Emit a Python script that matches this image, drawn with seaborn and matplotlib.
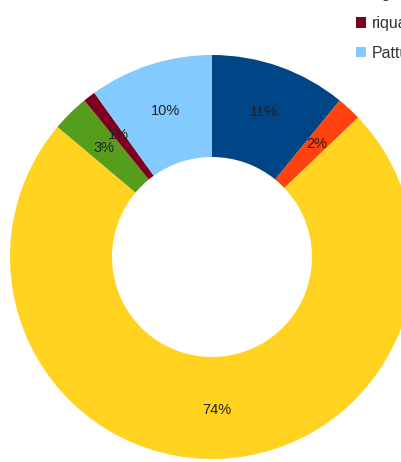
import numpy as np
import matplotlib
matplotlib.use("Agg")
import matplotlib.pyplot as plt
import seaborn as sns

# Share of each category (percent)
categories = ["Sicurezza", "Ambiente", "Qualità", "Agenzia", "riqualificazione", "Pattuglie"]
values = [11, 2, 74, 3, 1, 10]
colors = ["#004586", "#ff420e", "#ffd320", "#579d1c", "#7e0021", "#83caff"]

sns.set_theme(style="white")
plt.rcParams["font.family"] = ["Liberation Sans", "DejaVu Sans"]
palette = sns.color_palette(colors)

W, H = 402, 462
fig = plt.figure(figsize=(W / 100, H / 100), dpi=100)
fig.patch.set_facecolor("white")

# Donut centred at (212, 257) px with outer radius 202 px
cx, cy, r = 212, 257, 202
ax = fig.add_axes([(cx - r) / W, (H - cy - r) / H, 2 * r / W, 2 * r / H])

wedges, _ = ax.pie(
    values,
    colors=palette,
    startangle=90,
    counterclock=False,
    radius=1.0,
    wedgeprops=dict(width=0.505, linewidth=0),
)
ax.set_xlim(-1, 1)
ax.set_ylim(-1, 1)
ax.set_aspect("equal")
ax.axis("off")

# Percentage labels at the middle of the ring
for w, v in zip(wedges, values):
    ang = np.deg2rad((w.theta1 + w.theta2) / 2)
    rr = 0.76
    ax.text(rr * np.cos(ang), rr * np.sin(ang), f"{v}%",
            ha="center", va="center", fontsize=10.5, color="#222222")

handles = [plt.Rectangle((0, 0), 1, 1, facecolor=c, edgecolor="none") for c in palette]
fig.legend(
    handles, categories,
    loc="lower left",
    bbox_to_anchor=(356 / W, 1 - 61 / H),
    frameon=False,
    fontsize=11.5,
    labelcolor="#333333",
    handlelength=0.6,
    handleheight=0.6,
    handletextpad=0.38,
    labelspacing=0.93,
    borderpad=0,
    borderaxespad=0,
)

fig.savefig("out.png", dpi=100, facecolor="white")
